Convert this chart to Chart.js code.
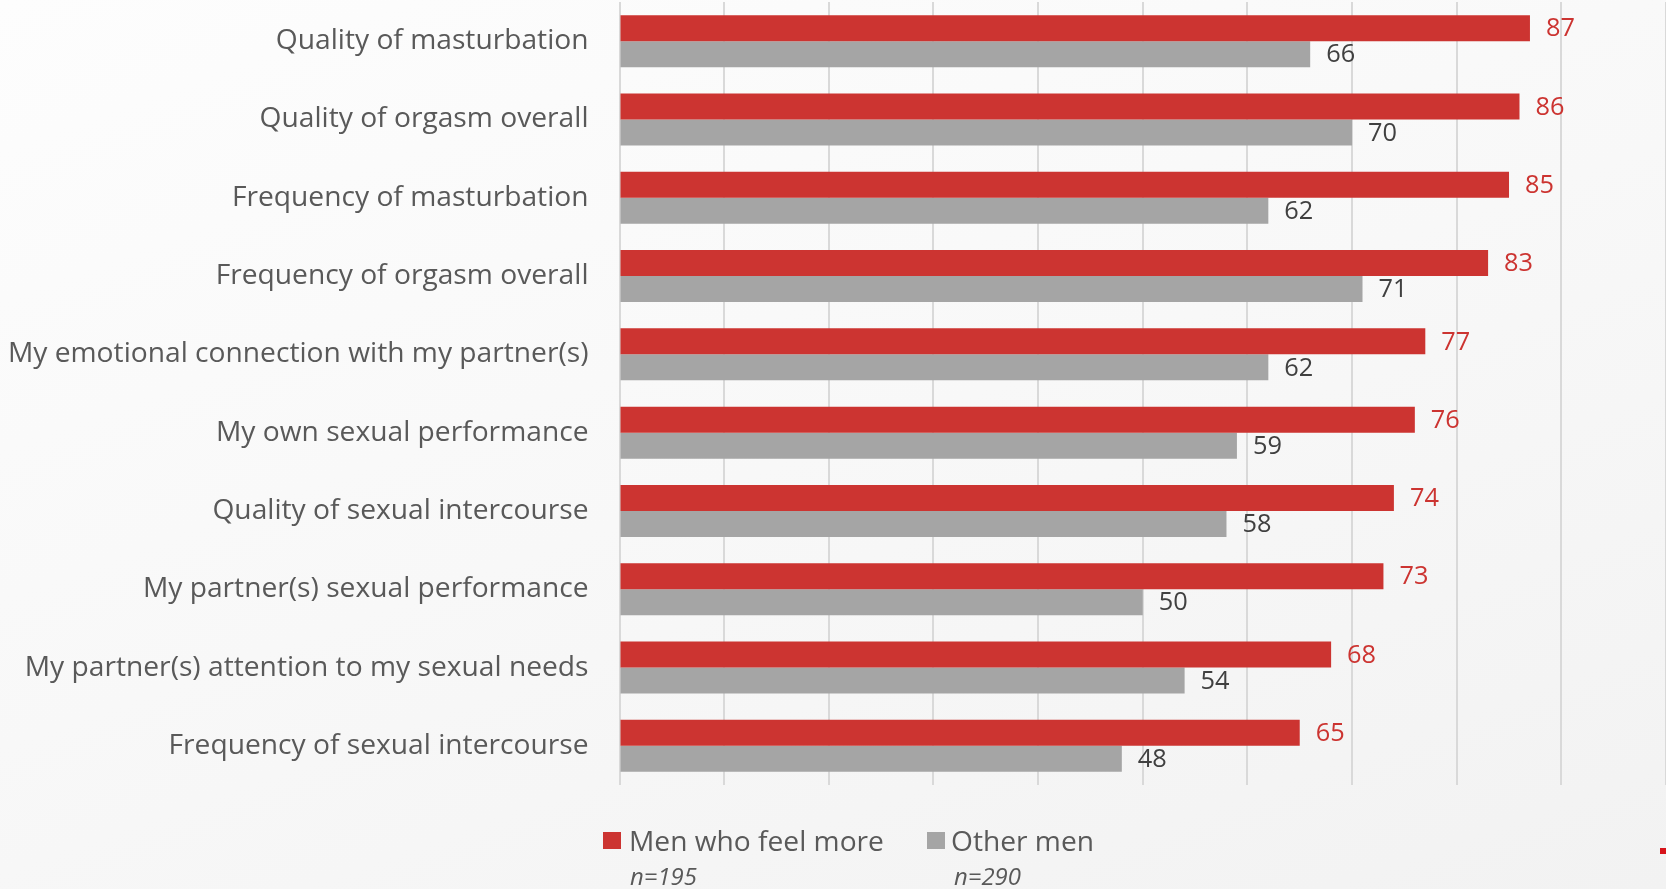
<!DOCTYPE html>
<html>
<head>
<meta charset="utf-8">
<script src="https://cdn.jsdelivr.net/npm/chart.js@4.4.1/dist/chart.umd.min.js"></script>
<style>
  html, body { margin:0; padding:0; }
  body { width:1666px; height:889px; overflow:hidden; position:relative;
         background: linear-gradient(160deg, #fdfdfd 0%, #f8f8f8 50%, #f2f2f2 100%);
         font-family: "Open Sans", "Noto Sans", sans-serif; }
  #wrap { position:absolute; left:0; top:0; width:1666px; height:889px; }
  .leg { position:absolute; color:#595959; white-space:nowrap; line-height:1; }
  .sw { position:absolute; width:18px; height:17px; }
  .n { position:absolute; color:#595959; font-style:italic; white-space:nowrap; line-height:1; }
  #mark { position:absolute; left:1660px; top:848px; width:6px; height:6px; background:#d7141a; }
</style>
</head>
<body>
<div id="wrap"><canvas id="c" width="1666" height="889"></canvas></div>
<div class="sw" id="sw0" style="left:603px; top:832px;"></div>
<div class="leg" id="leg0" style="left:629px; top:826px;"></div>
<div class="sw" id="sw1" style="left:927px; top:832px;"></div>
<div class="leg" id="leg1" style="left:951px; top:826px;"></div>
<div class="n" id="n0" style="left:630px; top:866px;"></div>
<div class="n" id="n1" style="left:954px; top:866px;"></div>
<div id="mark"></div>
<script>
const categories = [
  "Quality of masturbation",
  "Quality of orgasm overall",
  "Frequency of masturbation",
  "Frequency of orgasm overall",
  "My emotional connection with my partner(s)",
  "My own sexual performance",
  "Quality of sexual intercourse",
  "My partner(s) sexual performance",
  "My partner(s) attention to my sexual needs",
  "Frequency of sexual intercourse"
];
const seriesNames = ["Men who feel more", "Other men"];
const sampleSizes = ["n=195", "n=290"];
const menWhoFeelMore = [87, 86, 85, 83, 77, 76, 74, 73, 68, 65];
const otherMen = [66, 70, 62, 71, 62, 59, 58, 50, 54, 48];
const xTicks = [0, 10, 20, 30, 40, 50, 60, 70, 80, 90, 100];

const RED = '#cc3431';
const GREY = '#a5a5a5';
const FONT = '"Open Sans", "Noto Sans", sans-serif';

// fit font size so the longest label matches the reference width
const mctx = document.createElement('canvas').getContext('2d');
function fitSize(text, target, italic) {
  mctx.font = (italic ? 'italic ' : '') + '100px ' + FONT;
  return 100 * target / mctx.measureText(text).width;
}
const labelSize = fitSize("My emotional connection with my partner(s)", 581);
const valueSize = fitSize("87", 29);
const legendSize = fitSize("Men who feel more", 255);
const nSize = fitSize("n=195", 67, true);

document.getElementById('sw0').style.background = RED;
document.getElementById('sw1').style.background = GREY;
document.getElementById('leg0').textContent = seriesNames[0];
document.getElementById('leg1').textContent = seriesNames[1];
document.getElementById('n0').textContent = sampleSizes[0];
document.getElementById('n1').textContent = sampleSizes[1];
['leg0','leg1'].forEach(id => { const e = document.getElementById(id); e.style.fontSize = legendSize + 'px'; e.style.top = (845 - legendSize*0.68) + 'px'; });
['n0','n1'].forEach(id => { const e = document.getElementById(id); e.style.fontSize = nSize + 'px'; e.style.top = (879 - nSize*0.62) + 'px'; });

const valueLabels = {
  id: 'valueLabels',
  afterDatasetsDraw(chart) {
    const ctx = chart.ctx;
    ctx.save();
    ctx.font = valueSize + 'px ' + FONT;
    ctx.textAlign = 'left';
    ctx.textBaseline = 'middle';
    chart.data.datasets.forEach((ds, di) => {
      const meta = chart.getDatasetMeta(di);
      ctx.fillStyle = di === 0 ? '#cc3431' : '#404040';
      meta.data.forEach((el, i) => {
        ctx.fillText(String(ds.data[i]), el.x + 16, el.y + 1);
      });
    });
    ctx.restore();
  }
};

new Chart(document.getElementById('c'), {
  type: 'bar',
  data: {
    labels: categories,
    datasets: [
      { label: seriesNames[0], data: menWhoFeelMore, backgroundColor: RED },
      { label: seriesNames[1], data: otherMen, backgroundColor: GREY }
    ]
  },
  options: {
    indexAxis: 'y',
    responsive: false,
    animation: false,
    devicePixelRatio: 1,
    layout: { padding: { top: 2, right: 0, left: 0, bottom: 0 } },
    categoryPercentage: 0.664,
    barPercentage: 1.0,
    plugins: { legend: { display: false }, tooltip: { enabled: false } },
    scales: {
      x: {
        min: 0, max: 100,
        afterBuildTicks: s => { s.ticks = xTicks.map(v => ({ value: v })); },
        ticks: { display: false },
        grid: { color: '#d9d9d9', lineWidth: 2, drawTicks: false },
        border: { display: false },
        afterFit: s => { s.height = 104; s.paddingLeft = 0; s.paddingRight = 0; }
      },
      y: {
        grid: { display: false, drawTicks: false },
        border: { display: false },
        ticks: { color: '#595959', padding: 31, font: { family: FONT, size: labelSize } },
        afterFit: s => { s.width = 619.5; s.paddingTop = 0; s.paddingBottom = 0; }
      }
    }
  },
  plugins: [valueLabels]
});
</script>
</body>
</html>
